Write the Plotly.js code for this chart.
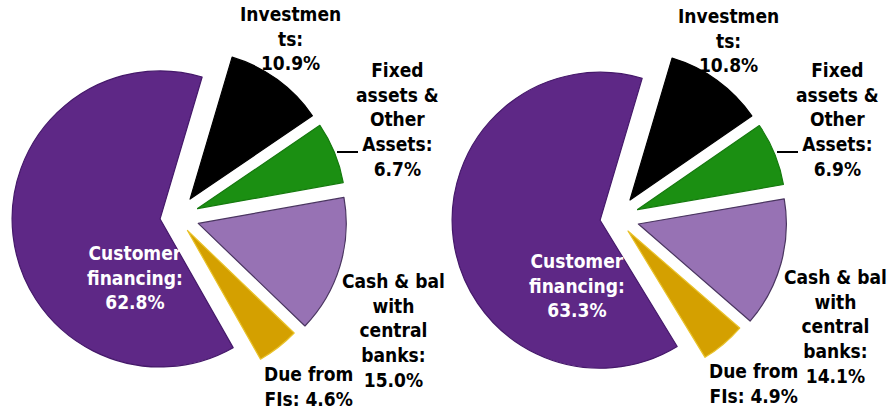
<!DOCTYPE html>
<html>
<head>
<meta charset="utf-8">
<script src="https://cdn.plot.ly/plotly-3.0.1.min.js"></script>
<style>html,body{margin:0;padding:0;background:#fff}#chart{width:887px;height:412px}</style>
</head>
<body>
<div id="chart"></div>
<script>
// ---- data ----
const categories = ["Investments", "Fixed assets & Other Assets", "Cash & bal with central banks", "Due from FIs", "Customer financing"];
const labelTemplates = ["Investmen<br>ts:<br>%v", "Fixed<br>assets &<br>Other<br>Assets:<br>%v", "Cash & bal<br>with<br>central<br>banks:<br>%v", "Due from<br>FIs: %v", "Customer<br>financing:<br>%v"];
const valuesLeft = [10.9, 6.7, 15.0, 4.6, 62.8];
const valuesRight = [10.8, 6.9, 14.1, 4.9, 63.3];

// ---- styles ----
const W = 887, H = 412;
const sliceColors = ["#000000", "#1b8f12", "#9772b4", "#d4a000", "#5e2886"];
const lineColors = ["#000000", "#157a0e", "#4a3560", "#e9c22a", "#45196a"];
const pulls = [0.15, 0.15, 0.15, 0.115, 0.115];
const FONT = {family: "DejaVu Sans Condensed, DejaVu Sans, sans-serif", size: 19, color: "#000", weight: "bold"};

function px(x) { return x / W; }
function py(y) { return 1 - y / H; }
function domainFor(cx, cy, r, maxPull) {
  const half = r * (1 + maxPull);
  return {x: [px(cx - half), px(cx + half)], y: [py(cy + half), py(cy - half)]};
}

function pieTrace(values, cx, cy, rotation) {
  return {
    type: "pie",
    labels: categories,
    values: values,
    sort: false,
    direction: "clockwise",
    rotation: rotation,
    pull: pulls,
    textinfo: "none",
    hoverinfo: "label+percent",
    marker: {colors: sliceColors, line: {color: lineColors, width: 1.2}},
    domain: domainFor(cx, cy, 148, Math.max(...pulls)),
    showlegend: false
  };
}

function labelText(i, values) {
  return labelTemplates[i].replace("%v", values[i].toFixed(1) + "%");
}

// label anchor positions (px) for each pie, same order as categories
const labelPosLeft = [[290, 39], [397, 120], [393, 330], [308, 386], [135, 277]];
const labelPosRight = [[728, 41], [837, 119], [835, 326], [753, 383], [577, 285]];

function annotationsFor(values, pos) {
  return categories.map((c, i) => ({
    xref: "paper", yref: "paper",
    x: px(pos[i][0]), y: py(pos[i][1]),
    xanchor: "center", yanchor: "middle",
    text: labelText(i, values),
    showarrow: false,
    align: "center",
    font: Object.assign({}, FONT, {color: i === 4 ? "#ffffff" : "#000000"})
  }));
}

const data = [
  pieTrace(valuesLeft, 177, 217, 16.5),
  pieTrace(valuesRight, 617, 218, 16.5)
];

const layout = {
  width: W, height: H,
  margin: {l: 0, r: 0, t: 0, b: 0},
  paper_bgcolor: "#ffffff",
  plot_bgcolor: "#ffffff",
  showlegend: false,
  annotations: annotationsFor(valuesLeft, labelPosLeft).concat(annotationsFor(valuesRight, labelPosRight)),
  shapes: [
    {type: "line", xref: "paper", yref: "paper", x0: px(337), x1: px(358), y0: py(152), y1: py(152), line: {color: "#000", width: 2}},
    {type: "line", xref: "paper", yref: "paper", x0: px(777), x1: px(798), y0: py(152), y1: py(152), line: {color: "#000", width: 2}}
  ]
};

Plotly.newPlot("chart", data, layout, {staticPlot: true, displayModeBar: false});
</script>
</body>
</html>
